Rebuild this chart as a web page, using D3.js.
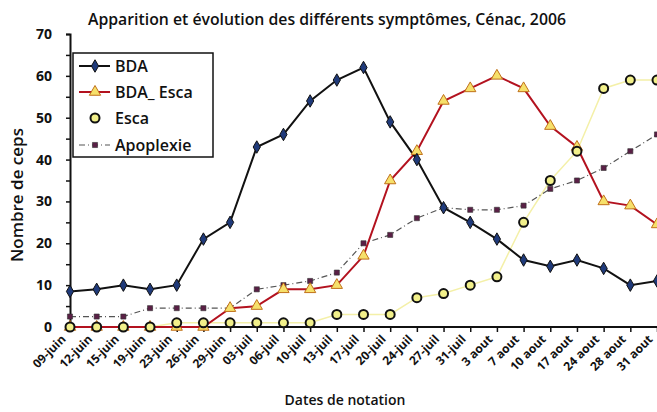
<!DOCTYPE html>
<html><head><meta charset="utf-8">
<script src="https://cdn.jsdelivr.net/npm/d3@7"></script>
<style>
body{margin:0;background:#fff;}
svg{display:block;font-family:"Open Sans",sans-serif;}
</style></head>
<body><svg id="c" width="657" height="412"></svg>
<script>
const categories = ["09-juin","12-juin","15-juin","19-juin","23-juin","26-juin","29-juin","03-juil","06-juil","10-juil","13-juil","17-juil","20-juil","24-juil","27-juil","31-juil","3 aout","7 aout","10 aout","17 aout","24 aout","28 aout","31 aout"];
const bda       = [8.5,9,10,9,10,21,25,43,46,54,59,62,49,40,28.5,25,21,16,14.5,16,14,10,11];
const bdaEsca   = [0,0,0,0,0,0,4.5,5,9,9,10,17,35,42,54,57,60,57,48,43,30,29,24.5];
const esca      = [0,0,0,0,1,1,1,1,1,1,3,3,3,7,8,10,12,25,35,42,57,59,59];
const apoplexie = [2.5,2.5,2.5,4.5,4.5,4.5,4.5,9,10,11,13,20,22,26,28.5,28,28,29,33,35,38,42,46];
const yTicks = [0,10,20,30,40,50,60,70];
const seriesNames = ["BDA","BDA_ Esca","Esca","Apoplexie"];

const svg = d3.select("#c");
const x = d3.scalePoint().domain(categories).range([70,657]);
const y = d3.scaleLinear().domain([0,70]).range([327,34]);

// title
svg.append("text").attr("x",88).attr("y",25).attr("font-size",15.5).attr("font-weight",600)
  .attr("textLength",478).attr("lengthAdjust","spacingAndGlyphs")
  .attr("fill","#111").text("Apparition et évolution des différents symptômes, Cénac, 2006");

// y axis
const ya = svg.append("g").attr("transform","translate(70,0)")
  .call(d3.axisLeft(y).tickValues(d3.range(0,71,5)).tickSize(4).tickFormat(""));
ya.select(".domain").attr("stroke","#111").attr("stroke-width",2);
ya.selectAll(".tick line").attr("stroke","#111").attr("stroke-width",1.5);
svg.append("g").selectAll("text").data(yTicks).join("text")
  .attr("x",52).attr("y",d=>y(d)+5).attr("text-anchor","end")
  .attr("font-size",14).attr("font-weight",700).attr("fill","#111").text(d=>d);

// x axis
const xa = svg.append("g").attr("transform","translate(0,327)")
  .call(d3.axisBottom(x).tickSize(5).tickSizeOuter(0));
xa.select(".domain").attr("stroke","#111").attr("stroke-width",2).attr("d","M70,0H700");
xa.selectAll(".tick line").attr("stroke","#111").attr("stroke-width",1.5);
xa.selectAll(".tick text").attr("transform","translate(-7,10) rotate(-45)")
  .attr("text-anchor","end").attr("dy","0.35em").attr("x",0).attr("y",0)
  .attr("font-size",12).attr("font-weight",700).attr("fill","#111")
  .attr("font-family","Open Sans, sans-serif");

// axis titles
svg.append("text").attr("transform","translate(23,195) rotate(-90)").attr("text-anchor","middle")
  .attr("font-size",17).attr("font-weight",600).attr("fill","#111").text("Nombre de ceps");
svg.append("text").attr("x",345).attr("y",405).attr("text-anchor","middle")
  .attr("font-size",14).attr("font-weight",600).attr("fill","#111").text("Dates de notation");

const line = d3.line().x((d,i)=>x(categories[i])).y(d=>y(d));

// Esca line (faint)
svg.append("path").datum(esca).attr("d",line).attr("fill","none").attr("stroke","#f4f0a8").attr("stroke-width",1.5);
// Apoplexie
svg.append("path").datum(apoplexie).attr("d",line).attr("fill","none").attr("stroke","#555")
  .attr("stroke-width",1.2).attr("stroke-dasharray","6,3,1,3");
// BDA_Esca
svg.append("path").datum(bdaEsca).attr("d",line).attr("fill","none").attr("stroke","#b3121f").attr("stroke-width",2);
// BDA
svg.append("path").datum(bda).attr("d",line).attr("fill","none").attr("stroke","#111").attr("stroke-width",2);

const sq = d3.symbol().type(d3.symbolSquare).size(26);
const tri = d3.symbol().type(d3.symbolTriangle).size(55);
const dia = d3.symbol().type(d3.symbolDiamond).size(45);

svg.append("g").selectAll("path").data(apoplexie).join("path")
  .attr("transform",(d,i)=>`translate(${x(categories[i])},${y(d)})`).attr("d",sq)
  .attr("fill","#5a2046").attr("stroke","#333").attr("stroke-width",0.6);
svg.append("g").selectAll("path").data(bdaEsca).join("path")
  .attr("transform",(d,i)=>`translate(${x(categories[i])},${y(d)})`).attr("d",tri)
  .attr("fill","#f6e06a").attr("stroke","#c0701a").attr("stroke-width",1);
svg.append("g").selectAll("circle").data(esca).join("circle")
  .attr("cx",(d,i)=>x(categories[i])).attr("cy",d=>y(d)).attr("r",4.5)
  .attr("fill","#f2f08a").attr("stroke","#111").attr("stroke-width",2);
svg.append("g").selectAll("path").data(bda).join("path")
  .attr("transform",(d,i)=>`translate(${x(categories[i])},${y(d)})`).attr("d",dia)
  .attr("fill","#1f3a7a").attr("stroke","#111").attr("stroke-width",1);

// legend
const lg = svg.append("g");
lg.append("rect").attr("x",73).attr("y",53).attr("width",140).attr("height",104)
  .attr("fill","#fff").attr("stroke","#111").attr("stroke-width",1.5);
const ly = [66,92,118,145];
const items = lg.selectAll("g").data(seriesNames).join("g").attr("transform",(d,i)=>`translate(0,${ly[i]})`);
items.append("text").attr("x",115).attr("y",6).attr("font-size",16).attr("font-weight",600)
  .attr("fill","#111").text(d=>d);
items.filter((d,i)=>i===0).call(g=>{
  g.append("line").attr("x1",79).attr("x2",110).attr("stroke","#111").attr("stroke-width",2);
  g.append("path").attr("transform","translate(95,0)").attr("d",dia).attr("fill","#1f3a7a").attr("stroke","#111");
});
items.filter((d,i)=>i===1).call(g=>{
  g.append("line").attr("x1",79).attr("x2",110).attr("stroke","#b3121f").attr("stroke-width",2);
  g.append("path").attr("transform","translate(95,0)").attr("d",tri).attr("fill","#f6e06a").attr("stroke","#c0701a");
});
items.filter((d,i)=>i===2).call(g=>{
  g.append("circle").attr("cx",95).attr("r",4.5).attr("fill","#f2f08a").attr("stroke","#111").attr("stroke-width",2);
});
items.filter((d,i)=>i===3).call(g=>{
  g.append("line").attr("x1",79).attr("x2",110).attr("stroke","#555").attr("stroke-width",1.2).attr("stroke-dasharray","6,3,1,3");
  g.append("path").attr("transform","translate(95,0)").attr("d",sq).attr("fill","#5a2046").attr("stroke","#333").attr("stroke-width",0.6);
});
</script></body></html>
